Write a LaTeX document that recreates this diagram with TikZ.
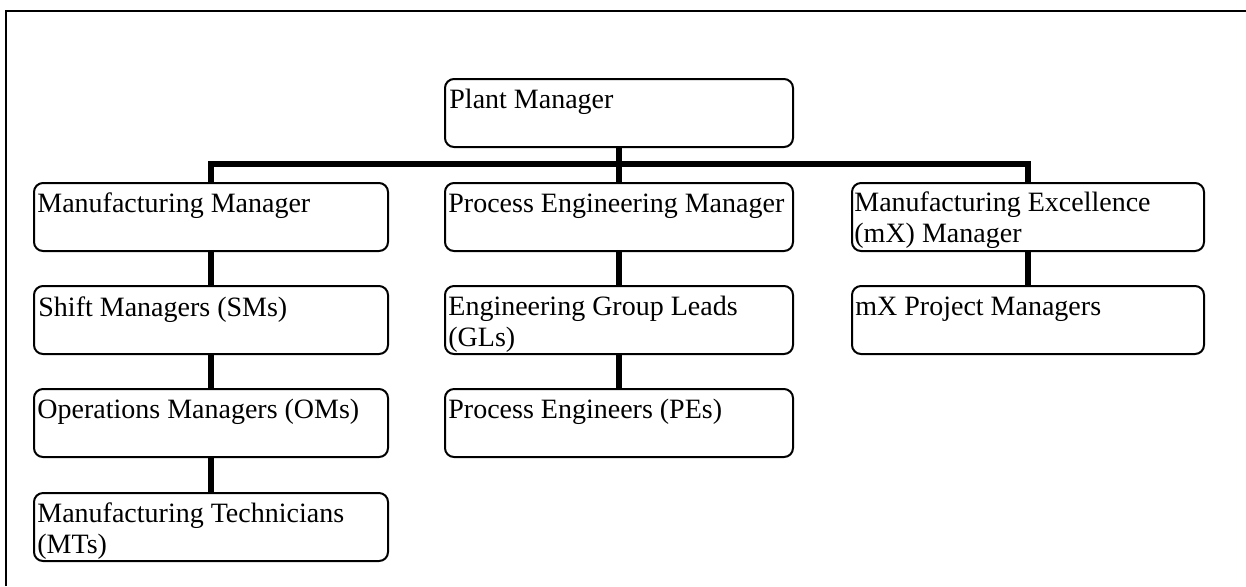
\documentclass[tikz,border=0pt]{standalone}
\usepackage{fontspec}
\setmainfont{Liberation Serif}
\begin{document}
\begin{tikzpicture}[x=0.5pt,y=-0.5pt,
  orgbox/.style={draw=black, line width=1pt, rounded corners=4.5pt, rectangle, inner sep=0pt, anchor=north west, minimum height=34pt},
  col1/.style={orgbox, minimum width=177pt},
  col2/.style={orgbox, minimum width=174pt},
  col3/.style={orgbox, minimum width=176pt},
  lbl/.style={anchor=base west, inner sep=0pt, align=left, font=\fontsize{14}{15.5}\selectfont},
  conn/.style={draw=black, line width=3pt, line join=miter},
  frameline/.style={draw=black, line width=1pt}]
\useasboundingbox (0,0) rectangle (1246,586);
\draw[frameline] (6,586) -- (6,11) -- (1246,11);

% boxes
\node[col2] (pm)  at (444,78)  {};
\node[col1] (mm)  at (33,182)  {};
\node[col2] (pem) at (444,182) {};
\node[col3] (mxm) at (851,182) {};
\node[col1] (sm)  at (33,285)  {};
\node[col2] (gl)  at (444,285) {};
\node[col3] (mxp) at (851,285) {};
\node[col1] (om)  at (33,388)  {};
\node[col2] (pe)  at (444,388) {};
\node[col1] (mt)  at (33,492)  {};

% labels (base anchor of a two-line node is on its last line)
\node[lbl] (pm-t)  at ([shift={(5,30)}]pm.north west)  {Plant Manager};
\node[lbl] (mm-t)  at ([shift={(4,30)}]mm.north west)  {Manufacturing Manager};
\node[lbl] (pem-t) at ([shift={(4,30)}]pem.north west) {Process Engineering Manager};
\node[lbl] (mxm-t) at ([shift={(3,60)}]mxm.north west) {Manufacturing Excellence\\(mX) Manager};
\node[lbl] (sm-t)  at ([shift={(5,31)}]sm.north west)  {Shift Managers (SMs)};
\node[lbl] (gl-t)  at ([shift={(4,61)}]gl.north west)  {Engineering Group Leads\\(GLs)};
\node[lbl] (mxp-t) at ([shift={(4,30)}]mxp.north west) {mX Project Managers};
\node[lbl] (om-t)  at ([shift={(4,30)}]om.north west)  {Operations Managers (OMs)};
\node[lbl] (pe-t)  at ([shift={(4,30)}]pe.north west)  {Process Engineers (PEs)};
\node[lbl] (mt-t)  at ([shift={(4,61)}]mt.north west)  {Manufacturing Technicians\\(MTs)};

% connectors
\coordinate (bus) at (pm.south |- 0,164);
\draw[conn] (pm.south) -- (bus);
\draw[conn] (mm.north) |- (bus) -| (mxm.north);
\draw[conn] (bus) -- (bus |- pem.north);
\draw[conn] (mm.south) -- (sm.north);
\draw[conn] (sm.south) -- (om.north);
\draw[conn] (om.south) -- (mt.north);
\draw[conn] (pem.south) -- (gl.north);
\draw[conn] (gl.south) -- (pe.north);
\draw[conn] (mxm.south) -- (mxp.north);
\end{tikzpicture}
\end{document}
